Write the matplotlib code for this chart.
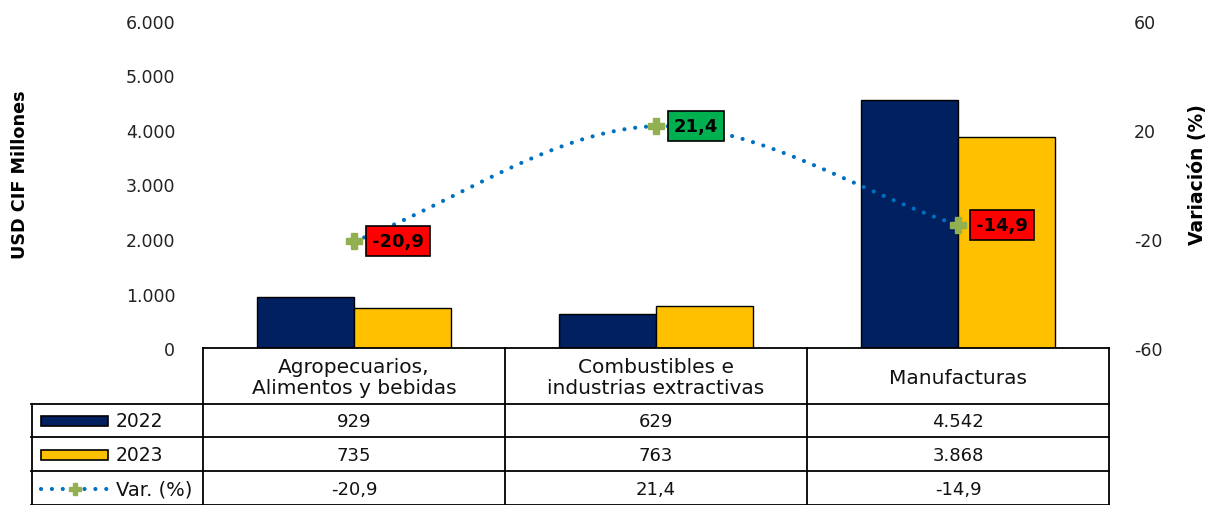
import matplotlib
matplotlib.use("Agg")
import matplotlib.pyplot as plt
import numpy as np
from matplotlib.lines import Line2D
from matplotlib.patches import Rectangle
import matplotlib.ticker as mticker

categories = ["Agropecuarios,\nAlimentos y bebidas", "Combustibles e\nindustrias extractivas", "Manufacturas"]
v2022 = [929, 629, 4542]
v2023 = [735, 763, 3868]
var_pct = [-20.9, 21.4, -14.9]
series_names = ["2022", "2023", "Var. (%)"]

NAVY = "#002060"
GOLD = "#FFC000"
BLUE = "#0070C0"
GREEN_M = "#92B050"

plt.rcParams['font.family'] = ['DejaVu Sans']
plt.rcParams['axes.unicode_minus'] = False
FS_NUM = 12.5
FS_TAB = 13
FS_TXT = 14.5
W, H = 1209, 506
fig = plt.figure(figsize=(W/100, H/100), dpi=100)

def fx(x): return x / W
def fy(y): return 1 - y / H

L, R, T, B = 203, 1109, 22, 349
ax = fig.add_axes([fx(L), fy(B), fx(R) - fx(L), fy(T) - fy(B)])
ax2 = ax.twinx()

x = np.arange(len(categories))
bw = 0.32
ax.bar(x - bw/2, v2022, bw, color=NAVY, edgecolor="black", linewidth=1, zorder=2)
ax.bar(x + bw/2, v2023, bw, color=GOLD, edgecolor="black", linewidth=1, zorder=2)
ax.set_xlim(-0.5, 2.5)
ax.set_ylim(0, 6000)
ax.set_yticks(np.arange(0, 6001, 1000))
ax.yaxis.set_major_formatter(mticker.FuncFormatter(lambda v, p: f"{int(v):,}".replace(",", ".")))
ax.set_xticks([])
for s in ax.spines.values():
    s.set_visible(False)
for s in ax2.spines.values():
    s.set_visible(False)
ax.tick_params(axis='y', length=0, labelsize=FS_NUM, pad=20, colors="#222222")
ax2.tick_params(axis='y', length=0, labelsize=FS_NUM, pad=18, colors="#222222")
ax2.set_ylim(-60, 60)
ax2.set_yticks([-60, -20, 20, 60])

# smooth curve (Catmull-Rom) through the variation points
def catmull(xs, ys, n=40):
    px = np.concatenate([[2*xs[0]-xs[1]], xs, [2*xs[-1]-xs[-2]]])
    py = np.concatenate([[2*ys[0]-ys[1]], ys, [2*ys[-1]-ys[-2]]])
    ox, oy = [], []
    for i in range(1, len(px)-2):
        t = np.linspace(0, 1, n)
        for arr, out in ((px, ox), (py, oy)):
            p0, p1, p2, p3 = arr[i-1], arr[i], arr[i+1], arr[i+2]
            out.extend(0.5*((2*p1) + (-p0+p2)*t + (2*p0-5*p1+4*p2-p3)*t**2 + (-p0+3*p1-3*p2+p3)*t**3))
    return np.array(ox), np.array(oy)

cx, cy = catmull(x.astype(float), np.array(var_pct, dtype=float))
ax2.plot(cx, cy, color=BLUE, lw=3, linestyle=(0, (0.01, 2.6)), dash_capstyle='round', zorder=4)
ax2.plot(x, var_pct, linestyle="none", marker="P", ms=11, color=GREEN_M, mec=GREEN_M, zorder=5)
for xi, v in zip(x, var_pct):
    fc = "#00B050" if v > 0 else "#FF0000"
    ax2.annotate(f"{v:.1f}".replace(".", ","), (xi, v), xytext=(13, 0), textcoords="offset points",
                 ha="left", va="center", fontsize=13, fontweight="bold", color="black", zorder=6,
                 bbox=dict(boxstyle="square,pad=0.33", fc=fc, ec="black", lw=1.2))

fig.text(fx(20), fy(175), "USD CIF Millones", rotation=90, ha="center", va="center",
         fontsize=12.7, fontweight="bold")
fig.text(fx(1197), fy(175), "Variación (%)", rotation=90, ha="center", va="center",
         fontsize=13.5, fontweight="bold")

# table
def hline(x0, x1, y, lw=1.3):
    fig.add_artist(Line2D([fx(x0), fx(x1)], [fy(y), fy(y)], color="black", lw=lw))
def vline(xx, y0, y1, lw=1.3):
    fig.add_artist(Line2D([fx(xx), fx(xx)], [fy(y0), fy(y1)], color="black", lw=lw))

cols = [203, 505, 807, 1109]
rows = [349, 405, 438, 472, 506]
hline(203, 1109, 349)
for yy in rows[1:4]:
    hline(31, 1109, yy)
hline(31, 1109, 505.5)
for xx in cols:
    vline(xx, 349, 506)
vline(31.5, 405, 506)

for i, c in enumerate(categories):
    cxp = (cols[i] + cols[i+1]) / 2
    fig.text(fx(cxp), fy(378), c, ha="center", va="center", fontsize=FS_TXT, linespacing=1.1, color="#111111")
    fig.text(fx(cxp), fy(422), f"{v2022[i]:,}".replace(",", "."), ha="center", va="center", fontsize=FS_TAB, color="#111111")
    fig.text(fx(cxp), fy(456), f"{v2023[i]:,}".replace(",", "."), ha="center", va="center", fontsize=FS_TAB, color="#111111")
    fig.text(fx(cxp), fy(490), f"{var_pct[i]:.1f}".replace(".", ","), ha="center", va="center", fontsize=FS_TAB, color="#111111")

# legend keys
for yc, col in ((422, NAVY), (456, GOLD)):
    fig.add_artist(Rectangle((fx(41), fy(yc + 5)), fx(108) - fx(41), fy(yc - 5) - fy(yc + 5),
                             transform=fig.transFigure, fc=col, ec="black", lw=1.2))
fig.add_artist(Line2D([fx(41), fx(108)], [fy(490), fy(490)], color=BLUE, lw=3,
                      linestyle=(0, (0.01, 2.6)), dash_capstyle='round'))
fig.add_artist(Line2D([fx(75)], [fy(490)], marker="P", ms=9, color=GREEN_M, mec=GREEN_M, linestyle="none"))
for yc, name, fs in zip((422, 456, 490), series_names, (13.5, 13.5, 14)):
    fig.text(fx(116), fy(yc), name, ha="left", va="center", fontsize=fs, color="#111111")

fig.savefig("out.png", dpi=100)
